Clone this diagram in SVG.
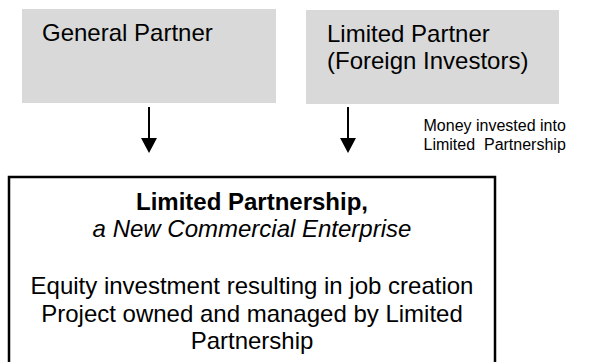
<svg xmlns="http://www.w3.org/2000/svg" width="591" height="362" viewBox="0 0 591 362">
<style>
text{font-family:"Liberation Sans",Arial,sans-serif;fill:#000}
.big{font-size:24px}
.small{font-size:16px}
.grey{fill:#d9d9d9;stroke:none}
.edge{stroke:#000;stroke-width:2;fill:none;marker-end:url(#ah)}
</style>
<defs>
<marker id="ah" viewBox="0 0 15 16" markerWidth="15" markerHeight="16" refX="7" refY="8" orient="auto" markerUnits="userSpaceOnUse">
<path d="M0,0 L15,8 L0,16 Z" fill="#000"/>
</marker>
</defs>
<rect width="591" height="362" fill="#fff"/>
<g id="general-partner">
<rect class="grey" x="22" y="9" width="254" height="94"/>
<text class="big" x="42" y="41">General Partner</text>
</g>
<g id="limited-partner">
<rect class="grey" x="306" y="10" width="253" height="94"/>
<text class="big" x="327" y="41.5">Limited Partner</text>
<text class="big" x="327" y="69">(Foreign Investors)</text>
</g>
<g id="limited-partnership">
<rect x="9" y="177" width="486" height="200" fill="#fff" stroke="#000" stroke-width="2.5"/>
<text class="big" x="252" y="210" text-anchor="middle" font-weight="bold">Limited Partnership,</text>
<text class="big" x="252" y="237" text-anchor="middle" font-style="italic">a New Commercial Enterprise</text>
<text class="big" x="252" y="294" text-anchor="middle">Equity investment resulting in job creation</text>
<text class="big" x="252" y="321.6" text-anchor="middle">Project owned and managed by Limited</text>
<text class="big" x="252" y="349.2" text-anchor="middle">Partnership</text>
</g>
<g id="connectors">
<line class="edge" x1="149" y1="107" x2="149" y2="145"/>
<line class="edge" x1="348" y1="107" x2="348" y2="145"/>
<text class="small" x="423.5" y="131">Money invested into</text>
<text class="small" x="423.5" y="149.5" xml:space="preserve">Limited  Partnership</text>
</g>
</svg>
